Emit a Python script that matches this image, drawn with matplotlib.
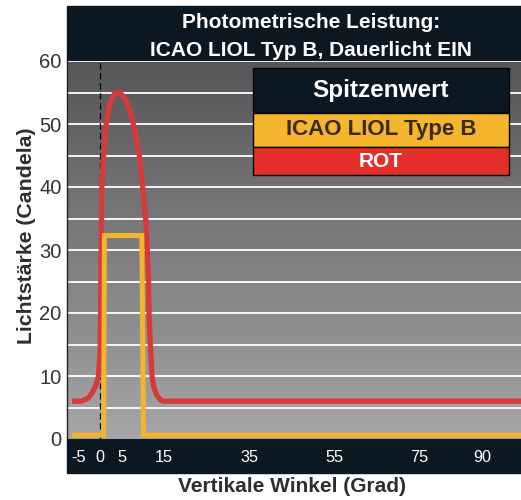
import numpy as np
import matplotlib
matplotlib.use("Agg")
import matplotlib.pyplot as plt
from matplotlib.patches import Rectangle
from matplotlib.colors import LinearSegmentedColormap

plt.rcParams['font.family'] = ['Liberation Sans', 'DejaVu Sans']

# data
red_x = [-6, -4.5, -3, -2, -1, -0.4, 0, 0.25, 0.4, 0.8, 1.4, 2.3, 3.3, 4.5, 5.6, 6.8, 7.8, 9.2, 10.0, 10.7, 11.1, 11.4, 11.5, 11.8, 12.2, 12.7, 13.3, 14.2, 15.0, 99]
red_y = [6, 6, 6.4, 7.2, 8.5, 10, 14, 30, 40, 45, 50, 53.3, 54.8, 55, 54.3, 52.5, 50, 45, 40, 35, 30, 25, 20, 15, 10, 8, 7, 6.2, 6, 6]
yellow_x = [-6, 0.8, 1.0, 9.8, 10.2, 99]
yellow_y = [0.6, 0.6, 32.3, 32.3, 0.6, 0.6]
xticks = [-5, 0, 5, 15, 35, 55, 75, 90]
yticks = [0, 10, 20, 30, 40, 50, 60]
legend_labels = ["Spitzenwert", "ICAO LIOL Type B", "ROT"]

W, H = 521, 500
fig = plt.figure(figsize=(W / 100, H / 100), dpi=100)


def fx(x):
    return x / W


def fy(y):
    return 1 - y / H


x0, x1 = -7.8, 99
ax = fig.add_axes([fx(67), fy(439), (521 - 67) / W, (439 - 61) / H])
ax.set_xlim(x0, x1)
ax.set_ylim(0, 60)

# grey gradient background
cmap = LinearSegmentedColormap.from_list("bg", ["#565658", "#a6a6a8"])
ax.imshow(np.linspace(0, 1, 256).reshape(-1, 1), extent=[x0, x1, 0, 60],
          aspect='auto', cmap=cmap, origin='upper', zorder=0)

for y in range(5, 61, 5):
    ax.axhline(y, color='white', lw=1.3, zorder=1)
ax.axvline(0, color='black', lw=0.9, ls=(0, (5, 3)), zorder=2)

ax.plot(red_x, red_y, color='#d83a3a', lw=3.8, solid_joinstyle='round', zorder=3)
ax.plot(yellow_x, yellow_y, color='#f2b52b', lw=3.6, solid_joinstyle='miter', zorder=4)

for s in ['top', 'right', 'bottom']:
    ax.spines[s].set_visible(False)
ax.spines['left'].set_color('#222222')
ax.spines['left'].set_linewidth(1.0)

ax.set_yticks(yticks)
ax.tick_params(axis='y', length=0, pad=4, labelsize=14.5, labelcolor='#333333')
ax.set_xticks(xticks)
ax.set_xticklabels([str(t) for t in xticks])
ax.tick_params(axis='x', length=0, pad=8, labelsize=11.7, labelcolor='white')

dark = '#0b1821'
# bottom band under x tick labels
fig.add_artist(Rectangle((fx(67), fy(473)), (521 - 67) / W, 34 / H,
                         transform=fig.transFigure, color=dark, zorder=-1))
# title bar
fig.add_artist(Rectangle((fx(67), fy(61)), (521 - 67) / W, 55 / H,
                         transform=fig.transFigure, color=dark, zorder=-1))
fig.text(fx(311), fy(23), "Photometrische Leistung:", color='white',
         fontsize=15, fontweight='bold', ha='center', va='center')
fig.text(fx(311), fy(50), "ICAO LIOL Typ B, Dauerlicht EIN", color='white',
         fontsize=15, fontweight='bold', ha='center', va='center')

# legend boxes
boxes = [(68, 113, dark, 'white', 17.5), (113, 147, '#f5b52c', '#3a2a12', 16),
         (147, 175, '#e32e2a', 'white', 15)]
for (top, bot, fc, tc, fs), lab in zip(boxes, legend_labels):
    fig.add_artist(Rectangle((fx(253), fy(bot)), (509 - 253) / W, (bot - top) / H,
                             transform=fig.transFigure, facecolor=fc,
                             edgecolor='black', lw=1, zorder=5))
    fig.text(fx(381), fy((top + bot) / 2), lab, color=tc, fontsize=fs,
             fontweight='bold', ha='center', va='center', zorder=6)

fig.text(fx(27), fy(236), "Lichtstärke (Candela)", rotation=90, color='#2e2e2e',
         fontsize=15.3, fontweight='bold', ha='center', va='center')
fig.text(fx(292), fy(486), "Vertikale Winkel (Grad)", color='#2e2e2e',
         fontsize=15, fontweight='bold', ha='center', va='center')

fig.savefig("out.png", dpi=100, facecolor='white')
